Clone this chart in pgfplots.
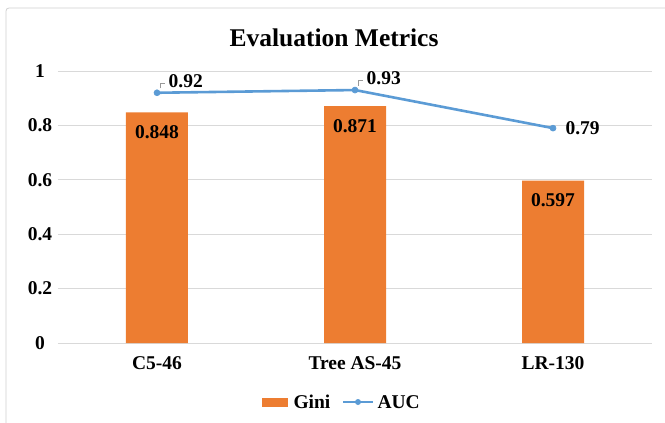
\documentclass[border=0pt]{standalone}
\usepackage{pgfplots}
\pgfplotsset{compat=1.18}
\usepackage{fontspec}
\setmainfont{Liberation Serif}
\definecolor{giniorange}{HTML}{ED7D31}
\definecolor{aucblue}{HTML}{5B9BD5}
\definecolor{gridgray}{HTML}{D9D9D9}
\definecolor{framegray}{HTML}{D0D0D0}

\newcommand{\lbl}{\fontsize{19.5}{19.5}\selectfont\bfseries}

% small elbow leader drawn next to a labelled point
\pgfdeclareplotmark{leader}{%
  \pgfpathmoveto{\pgfpoint{3pt}{4.5pt}}%
  \pgfpathlineto{\pgfpoint{3pt}{9.5pt}}%
  \pgfpathlineto{\pgfpoint{8pt}{9.5pt}}%
  \pgfusepathqstroke}

\begin{document}
\begin{tikzpicture}
\useasboundingbox (0pt,0pt) rectangle (665pt,-423pt);
% chart frame
\draw[framegray, line width=0.8pt, rounded corners=3pt] (6pt,-440pt) -- (6pt,-8pt) -- (690pt,-8pt);
% title
\node[font=\fontsize{25.5}{25.5}\selectfont\bfseries] at (334pt,-38pt) {Evaluation Metrics};

\begin{axis}[
  at={(58pt,-343pt)}, anchor=south west,
  scale only axis, width=594pt, height=272pt,
  xmin=-0.5, xmax=2.5, ymin=0, ymax=1,
  axis line style={draw=none},
  tick style={draw=none},
  ymajorgrids, grid style={gridgray, line width=0.8pt},
  ytick={0,0.2,0.4,0.6,0.8,1},
  yticklabels={0,0.2,0.4,0.6,0.8,1},
  yticklabel style={font=\lbl, anchor=center, xshift=-18pt},
  xtick={0,1,2},
  xticklabels={C5-46,Tree AS-45,LR-130},
  xticklabel style={font=\lbl, anchor=center, yshift=-20pt},
  clip=false,
]
% Gini bars
\addplot[ybar, bar width=62pt, fill=giniorange, draw=none,
  nodes near coords, point meta=explicit symbolic,
  every node near coord/.style={font=\lbl, anchor=center, yshift=-20pt}]
  coordinates {(0,0.848)[0.848] (1,0.871)[0.871] (2,0.597)[0.597]};
% AUC line
\addplot[aucblue, line width=2.6pt, mark=*, mark size=3pt,
  mark options={solid, fill=aucblue, draw=aucblue, line width=0.6pt}]
  coordinates {(0,0.92) (1,0.93) (2,0.79)};
% AUC labels with leader lines
\addplot[only marks, mark=leader, mark options={draw=gray!80, line width=0.8pt},
  nodes near coords, point meta=explicit symbolic,
  every node near coord/.style={font=\lbl, anchor=west, xshift=8pt, yshift=12pt}]
  coordinates {(0,0.92)[0.92] (1,0.93)[0.93]};
\addplot[draw=none, nodes near coords, point meta=explicit symbolic,
  every node near coord/.style={font=\lbl, anchor=west, xshift=9pt}]
  coordinates {(2,0.79)[0.79]};
\end{axis}

% legend
\fill[giniorange] (262pt,-398pt) rectangle (288pt,-407pt);
\node[font=\lbl, anchor=west] at (290pt,-402pt) {Gini};
\draw[aucblue, line width=2.6pt] (343pt,-402pt) -- (373pt,-402pt);
\fill[aucblue] (358pt,-402pt) circle (3pt);
\node[font=\lbl, anchor=west] at (374pt,-402pt) {AUC};
\end{tikzpicture}
\end{document}
